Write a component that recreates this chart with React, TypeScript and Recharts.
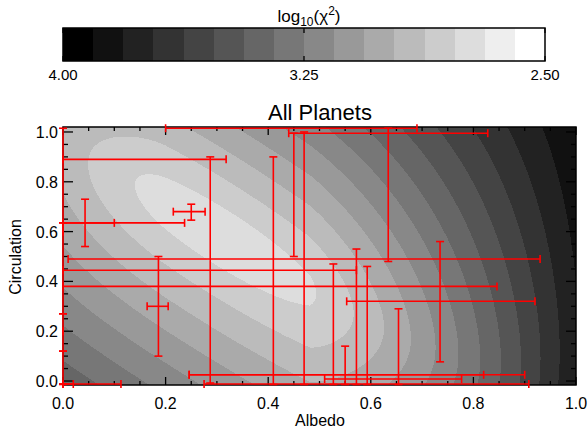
import React from "react";
import { ComposedChart, XAxis, YAxis, Scatter, ErrorBar, ReferenceArea } from "recharts";

const W = 588;
const H = 430;
const FONT = '"Liberation Sans", Arial, Helvetica, sans-serif';

// colour bar: 16 grey steps from log10(chi^2) = 4.00 (black) to 2.50 (white)
const CB_GRAYS = [0, 17, 34, 51, 68, 85, 102, 119, 136, 153, 170, 187, 204, 221, 238, 255];
const CB_TICKS = [4.0, 3.25, 2.5];
const CB_LOW = 2.5;
const CB_HIGH = 4.0;

// main panel axes
const X_MIN = 0;
const X_MAX = 1;
const Y_MIN = -0.016;
const Y_MAX = 1.02;
const MAJOR_TICKS = [0, 0.2, 0.4, 0.6, 0.8, 1.0];
const ALL_TICKS = [
  0, 0.05, 0.1, 0.15, 0.2, 0.25, 0.3, 0.35, 0.4, 0.45, 0.5,
  0.55, 0.6, 0.65, 0.7, 0.75, 0.8, 0.85, 0.9, 0.95, 1.0,
];

// planets: best fit albedo / circulation and the ends of their error bars
const ALBEDO    = [0.043, 0.0, 0.25, 0.186, 0.287, 0.41, 0.45, 0.47, 0.634, 0.735, 0.527, 0.572, 0.593, 0.55, 0.654, 0.0, 0.0, 0.0, 0.0];
const ALBEDO_LO = [0.0, 0.0, 0.215, 0.164, 0.0, 0.01, 0.44, 0.0, 0.2, 0.553, 0.51, 0.0, 0.246, 0.246, 0.275, 0.0, 0.0, 0.0, 0.0];
const ALBEDO_HI = [0.237, 0.1, 0.277, 0.205, 0.318, 0.93, 0.828, 0.846, 0.69, 0.92, 0.777, 0.572, 0.9, 0.82, 0.908, 0.113, 0.0, 0.0, 0.02];
const CIRC      = [0.635, 0.635, 0.68, 0.3, 0.89, 0.49, 0.995, 0.38, 1.015, 0.32, 0.008, 0.445, 0.025, 0.025, -0.012, -0.012, 0.2, 0.6, -0.012];
const CIRC_LO   = [0.54, 0.635, 0.646, 0.1, -0.008, -0.014, 0.5, -0.014, 0.48, 0.077, -0.014, -0.014, -0.014, -0.014, -0.014, -0.014, 0.12, 0.27, -0.012];
const CIRC_HI   = [0.73, 0.635, 0.71, 0.5, 0.9, 0.9, 0.995, 1.0, 1.015, 0.56, 0.47, 0.53, 0.46, 0.14, 0.29, 0.12, 0.27, 1.015, -0.012];

// plot box in pixels
const M_TOP = 127;
const M_LEFT = 63;
const M_RIGHT = 12;
const M_BOTTOM = 45;
const PLOT_W = W - M_LEFT - M_RIGHT;
const PLOT_H = H - M_TOP - M_BOTTOM;
const PX_X = PLOT_W / (X_MAX - X_MIN);
const PX_Y = PLOT_H / (Y_MAX - Y_MIN);
const ASPECT = PX_X / PX_Y;

// chi^2 surface model, measured in colour steps away from the best fit
const BEST = [0.31, 0.58];
const TILT = [0.839, -0.545];
const STEP_ALONG = 0.48;
const STEP_UP = 0.1;
const STEP_DOWN = 0.11;
const TOP_LEVEL = 14;

function steps(x: number, y: number) {
  const dx = (x - BEST[0]) * ASPECT;
  const dy = y - BEST[1];
  const u = (dx * TILT[0] + dy * TILT[1]) / STEP_ALONG;
  const vr = -dx * TILT[1] + dy * TILT[0];
  const v = vr / (vr > 0 ? STEP_UP : STEP_DOWN);
  let d = Math.sqrt(u * u + v * v);
  const t = Math.max(0, (x - 0.48) / 0.52);
  d += (7.7 - 6.2 * y) * Math.pow(t, 1.2);
  const l = Math.max(0, (0.2 - x) / 0.2);
  d += 1.3 * Math.pow(l, 1.5) * y * y;
  return d;
}

function levelAt(x: number, y: number) {
  const k = Math.floor(TOP_LEVEL - steps(x, y));
  return Math.max(0, Math.min(15, k));
}

// run-length rows of the filled contour map
const ROWS = 258;
const COLS = 1026;
const background: any[] = [];
{
  const dy = (Y_MAX - Y_MIN) / ROWS;
  const dx = (X_MAX - X_MIN) / COLS;
  for (let r = 0; r < ROWS; r++) {
    const yTop = Y_MAX - r * dy;
    const yc = yTop - dy / 2;
    let start = 0;
    let lev = levelAt(X_MIN + dx / 2, yc);
    for (let c = 1; c <= COLS; c++) {
      const l = c < COLS ? levelAt(X_MIN + (c + 0.5) * dx, yc) : -1;
      if (l !== lev) {
        background.push({ x: X_MIN + start * dx, y: yTop, w: (c - start) * dx, h: dy, gray: CB_GRAYS[lev] });
        start = c;
        lev = l;
      }
    }
  }
}

const planets = ALBEDO.map((x, i) => ({
  x,
  y: CIRC[i],
  ex: [x - ALBEDO_LO[i], ALBEDO_HI[i] - x],
  ey: [CIRC[i] - CIRC_LO[i], CIRC_HI[i] - CIRC[i]],
}));

const isMajor = (v: number) => MAJOR_TICKS.some((m) => Math.abs(m - v) < 1e-6);

const XTick = (props: any) => {
  const { x, y, payload } = props;
  const v = payload.value;
  const len = isMajor(v) ? 8 : 4;
  return (
    <g>
      <line x1={x} y1={y} x2={x} y2={y - len} stroke="#000" strokeWidth={1.3} />
      <line x1={x} y1={y - PLOT_H} x2={x} y2={y - PLOT_H + len} stroke="#000" strokeWidth={1.3} />
      {isMajor(v) && (
        <text x={x} y={y + 24} textAnchor="middle" fontSize={16} fontFamily={FONT} fill="#000">
          {v.toFixed(1)}
        </text>
      )}
    </g>
  );
};

const YTick = (props: any) => {
  const { x, y, payload } = props;
  const v = payload.value;
  const len = isMajor(v) ? 10 : 5;
  return (
    <g>
      <line x1={x} y1={y} x2={x + len} y2={y} stroke="#000" strokeWidth={1.3} />
      <line x1={x + PLOT_W} y1={y} x2={x + PLOT_W - len} y2={y} stroke="#000" strokeWidth={1.3} />
      {isMajor(v) && (
        <text x={x - 5} y={y + 6} textAnchor="end" fontSize={16} fontFamily={FONT} fill="#000">
          {v.toFixed(1)}
        </text>
      )}
    </g>
  );
};

// colour bar box in pixels
const CB_TOP = 28;
const CB_LEFT = 63;
const CB_RIGHT = 43;
const CB_CHART_H = 90;
const CB_BOTTOM = 29;
const CB_H = CB_CHART_H - CB_TOP - CB_BOTTOM;
const CB_PX = (W - CB_LEFT - CB_RIGHT) / (CB_HIGH - CB_LOW);
const cbWidth = (CB_HIGH - CB_LOW) / CB_GRAYS.length;
const cbCells = CB_GRAYS.map((g, i) => ({ x: CB_HIGH - i * cbWidth, y: 1, gray: g }));
const cbAnchor = [{ x: 3.25, y: 0.5 }];

const CbTick = (props: any) => {
  const { x, y, payload } = props;
  return (
    <g>
      <line x1={x} y1={y} x2={x} y2={y - 5} stroke="#000" strokeWidth={1.3} />
      <line x1={x} y1={y - CB_H} x2={x} y2={y - CB_H + 5} stroke="#000" strokeWidth={1.3} />
      <text x={x} y={y + 19} textAnchor="middle" fontSize={15} fontFamily={FONT} fill="#000">
        {payload.value.toFixed(2)}
      </text>
    </g>
  );
};

const layer: React.CSSProperties = { position: "absolute", left: 0, top: 0 };
const plotMargin = { top: M_TOP, right: M_RIGHT, bottom: M_BOTTOM, left: M_LEFT };
const hiddenAxes = [
  <XAxis key="x" hide type="number" dataKey="x" domain={[X_MIN, X_MAX]} />,
  <YAxis key="y" hide type="number" dataKey="y" domain={[Y_MIN, Y_MAX]} />,
];

export default function App() {
  return (
    <div style={{ position: "absolute", left: 0, top: 0, width: W, height: H, background: "#fff" }}>
      {/* colour bar cells */}
      <div style={layer}>
        <ComposedChart width={W} height={CB_CHART_H} margin={{ top: CB_TOP, right: CB_RIGHT, bottom: CB_BOTTOM, left: CB_LEFT }}>
          <XAxis hide type="number" dataKey="x" domain={[CB_LOW, CB_HIGH]} reversed />
          <YAxis hide type="number" dataKey="y" domain={[0, 1]} />
          <Scatter
            data={cbCells}
            isAnimationActive={false}
            shape={(p: any) => (
              <rect
                x={p.cx}
                y={p.cy}
                width={cbWidth * CB_PX + 0.3}
                height={CB_H}
                fill={`rgb(${p.payload.gray},${p.payload.gray},${p.payload.gray})`}
                shapeRendering="crispEdges"
              />
            )}
          />
        </ComposedChart>
      </div>
      {/* colour bar frame and labels */}
      <div style={layer}>
        <ComposedChart width={W} height={CB_CHART_H} margin={{ top: CB_TOP, right: CB_RIGHT, bottom: CB_BOTTOM - 20, left: CB_LEFT }}>
          <XAxis
            type="number"
            dataKey="x"
            domain={[CB_LOW, CB_HIGH]}
            reversed
            ticks={CB_TICKS}
            interval={0}
            tickSize={0}
            tickMargin={0}
            axisLine={false}
            tickLine={false}
            height={20}
            tick={(p: any) => <CbTick {...p} />}
          />
          <YAxis hide type="number" dataKey="y" domain={[0, 1]} />
          <ReferenceArea x1={CB_LOW} x2={CB_HIGH} y1={0} y2={1} fill="none" stroke="#000" strokeWidth={1.5} />
          <Scatter data={cbAnchor} isAnimationActive={false} shape={() => <g />} />
        </ComposedChart>
      </div>

      {/* filled contours */}
      <div style={layer}>
        <ComposedChart width={W} height={H} margin={plotMargin}>
          {hiddenAxes}
          <Scatter
            data={background}
            isAnimationActive={false}
            shape={(p: any) => (
              <rect
                x={p.cx}
                y={p.cy}
                width={p.payload.w * PX_X + 0.3}
                height={p.payload.h * PX_Y + 0.3}
                fill={`rgb(${p.payload.gray},${p.payload.gray},${p.payload.gray})`}
                shapeRendering="crispEdges"
              />
            )}
          />
        </ComposedChart>
      </div>

      {/* axes, ticks and frame */}
      <div style={layer}>
        <ComposedChart width={W} height={H} margin={{ top: M_TOP, right: M_RIGHT, bottom: M_BOTTOM - 30, left: M_LEFT - 50 }}>
          <XAxis
            type="number"
            dataKey="x"
            domain={[X_MIN, X_MAX]}
            ticks={ALL_TICKS}
            interval={0}
            tickSize={0}
            tickMargin={0}
            axisLine={false}
            tickLine={false}
            height={30}
            tick={(p: any) => <XTick {...p} />}
          />
          <YAxis
            type="number"
            dataKey="y"
            domain={[Y_MIN, Y_MAX]}
            ticks={ALL_TICKS}
            interval={0}
            tickSize={0}
            tickMargin={0}
            axisLine={false}
            tickLine={false}
            width={50}
            tick={(p: any) => <YTick {...p} />}
          />
          <ReferenceArea x1={X_MIN} x2={X_MAX} y1={Y_MIN} y2={Y_MAX} fill="none" stroke="#000" strokeWidth={1.5} />
          <Scatter data={cbAnchor.map(() => ({ x: 0.5, y: 0.5 }))} isAnimationActive={false} shape={() => <g />} />
        </ComposedChart>
      </div>

      {/* planets with their error bars, drawn over the frame */}
      <div style={layer}>
        <ComposedChart width={W} height={H} margin={plotMargin}>
          {hiddenAxes}
          <Scatter data={planets} isAnimationActive={false} shape={() => <g />}>
            <ErrorBar dataKey="ex" direction="x" width={4} stroke="#ff0000" strokeWidth={1.6} isAnimationActive={false} />
            <ErrorBar dataKey="ey" direction="y" width={4} stroke="#ff0000" strokeWidth={1.6} isAnimationActive={false} />
          </Scatter>
        </ComposedChart>
      </div>

      {/* titles */}
      <svg width={W} height={H} style={{ position: "absolute", left: 0, top: 0, pointerEvents: "none" }}>
        <text x={309} y={22} textAnchor="middle" fontSize={17} fontFamily={FONT} fill="#000">
          log
          <tspan fontSize={12} dy={4}>10</tspan>
          <tspan dy={-4}>(χ</tspan>
          <tspan fontSize={12} dy={-7}>2</tspan>
          <tspan dy={7}>)</tspan>
        </text>
        <text x={320} y={120} textAnchor="middle" fontSize={22} fontFamily={FONT} fill="#000">
          All Planets
        </text>
        <text x={320} y={426} textAnchor="middle" fontSize={16} fontFamily={FONT} fill="#000">
          Albedo
        </text>
        <text
          x={21}
          y={257}
          transform="rotate(-90 21 257)"
          textAnchor="middle"
          fontSize={16}
          fontFamily={FONT}
          fill="#000"
        >
          Circulation
        </text>
      </svg>
    </div>
  );
}
